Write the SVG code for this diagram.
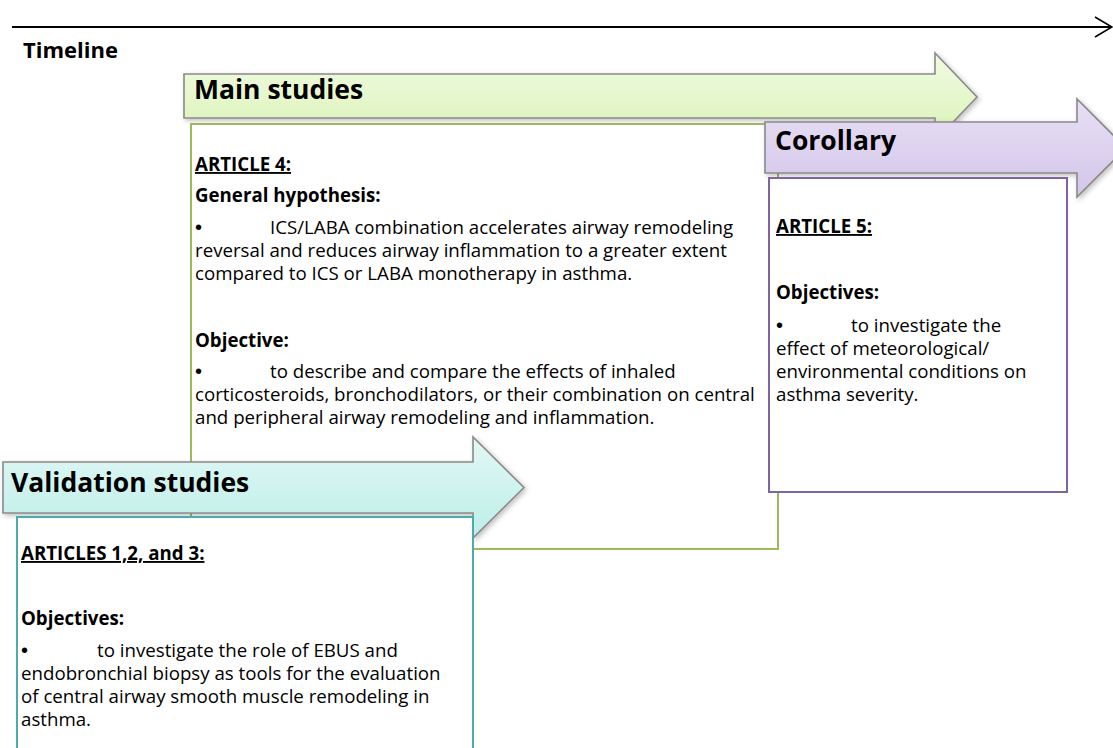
<svg xmlns="http://www.w3.org/2000/svg" width="1113" height="748" viewBox="0 0 1113 748">
<defs>
<style>
.t{font-family:"Open Sans","Liberation Sans",Arial,sans-serif;font-size:18.7px;fill:#000}
.b{font-weight:bold}
.u{text-decoration:underline}
.bul{font-family:"Liberation Sans",Arial,sans-serif;font-size:20px;fill:#000}
.h{font-family:"Open Sans","Liberation Sans",Arial,sans-serif;font-weight:bold;font-size:26.5px;fill:#000}
.arrow{stroke:#8a8a8a;stroke-width:1.6;stroke-linejoin:miter}
.box{fill:#fff;stroke-width:2}
</style>
<linearGradient id="gMain" x1="0" y1="0" x2="0" y2="1">
<stop offset="0" stop-color="#f1fbe2"/><stop offset="1" stop-color="#daf3b6"/>
</linearGradient>
<linearGradient id="gCor" x1="0" y1="0" x2="0" y2="1">
<stop offset="0" stop-color="#e8e0f4"/><stop offset="1" stop-color="#d3c5ea"/>
</linearGradient>
<linearGradient id="gVal" x1="0" y1="0" x2="0" y2="1">
<stop offset="0" stop-color="#e2f8f6"/><stop offset="1" stop-color="#bdeee8"/>
</linearGradient>
<filter id="sh" x="-5%" y="-20%" width="115%" height="150%">
<feDropShadow dx="2" dy="2" stdDeviation="2.5" flood-color="#000" flood-opacity="0.25"/>
</filter>
</defs>
<rect width="1113" height="748" fill="#fff"/>

<g id="timeline">
<line x1="12" y1="27" x2="1111" y2="27" stroke="#000" stroke-width="2"/>
<polyline points="1095,17 1112,27 1095,37" fill="none" stroke="#000" stroke-width="1.6"/>
<text class="t b" x="23" y="58" style="font-size:22px">Timeline</text>
</g>

<g id="main-studies">
<path class="arrow" filter="url(#sh)" fill="url(#gMain)" d="M184,74 H935 V53 L977,97 L935,141 V118 H184 Z"/>
<text class="h" x="194" y="99">Main studies</text>
<rect class="box" x="191" y="124" width="587" height="425" stroke="#9bbb59"/>
<text class="t b u" x="195" y="171">ARTICLE 4:</text>
<text class="t b" x="195" y="202">General hypothesis:</text>
<text class="bul" x="195" y="234">•</text>
<text class="t" x="270" y="234">ICS/LABA combination accelerates airway remodeling</text>
<text class="t" x="195" y="257">reversal and reduces airway inflammation to a greater extent</text>
<text class="t" x="195" y="280">compared to ICS or LABA monotherapy in asthma.</text>
<text class="t b" x="195" y="347">Objective:</text>
<text class="bul" x="195" y="378">•</text>
<text class="t" x="270" y="378">to describe and compare the effects of inhaled</text>
<text class="t" x="195" y="401">corticosteroids, bronchodilators, or their combination  on central</text>
<text class="t" x="195" y="424">and peripheral airway remodeling and inflammation.</text>
</g>

<g id="corollary">
<path class="arrow" filter="url(#sh)" fill="url(#gCor)" d="M765,122 H1077 V99 L1126,148 L1077,197 V173 H765 Z"/>
<text class="h" x="775" y="150">Corollary</text>
<rect class="box" x="769" y="178" width="298" height="314" stroke="#8064a2"/>
<text class="t b u" x="776" y="233">ARTICLE 5:</text>
<text class="t b" x="776" y="299">Objectives:</text>
<text class="bul" x="776" y="332">•</text>
<text class="t" x="851" y="332">to investigate the</text>
<text class="t" x="776" y="355">effect of meteorological/</text>
<text class="t" x="776" y="378">environmental conditions on</text>
<text class="t" x="776" y="401">asthma severity.</text>
</g>

<g id="validation-studies">
<path class="arrow" filter="url(#sh)" fill="url(#gVal)" d="M3,462 H473 V437 L524,487.5 L473,538 V513 H3 Z"/>
<text class="h" x="11" y="492">Validation studies</text>
<rect class="box" x="17" y="517" width="456" height="260" stroke="#4bacae"/>
<text class="t b u" x="21" y="560">ARTICLES 1,2, and 3:</text>
<text class="t b" x="21" y="625">Objectives:</text>
<text class="bul" x="21" y="657">•</text>
<text class="t" x="97" y="657">to investigate the role of EBUS and</text>
<text class="t" x="21" y="680">endobronchial biopsy as tools for the evaluation</text>
<text class="t" x="21" y="703">of central airway smooth muscle remodeling in</text>
<text class="t" x="21" y="726">asthma.</text>
</g>
</svg>
